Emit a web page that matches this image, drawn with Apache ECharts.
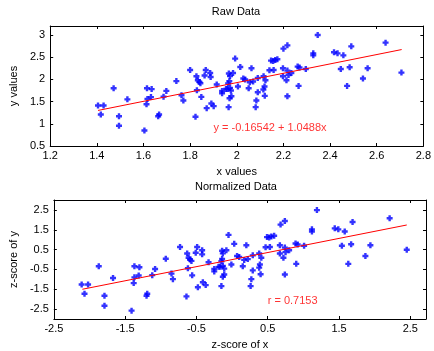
<!DOCTYPE html>
<html>
<head>
<meta charset="utf-8">
<script src="https://cdn.jsdelivr.net/npm/echarts@6/dist/echarts.min.js"></script>
<style>
html,body{margin:0;padding:0;background:#fff;}
#chart{width:434px;height:351px;}
</style>
</head>
<body>
<div id="chart"></div>
<script>
// ---- data ----
const rawX = [1.405,1.429,1.417,1.472,1.531,1.495,1.495,1.604,1.615,1.635,1.632,1.617,1.613,1.667,1.663,1.698,1.686,1.741,
  1.763,1.771,1.800,1.823,1.827,1.833,1.840,1.844,1.829,1.848,1.867,1.862,1.886,1.888,1.871,1.891,1.901,1.914,1.937,1.937,1.954,1.966,1.971,1.993,1.984,1.968,1.963,1.960,1.971,1.975,1.977,1.969,1.965,2.015,2.005,2.028,2.036,
  2.063,2.090,2.056,2.070,2.051,2.090,2.084,2.081,2.115,2.123,2.119,2.114,2.120,2.147,2.156,2.165,2.174,2.140,2.158,2.200,2.217,2.198,2.198,2.217,2.213,2.222,2.217,2.234,2.261,2.269,2.265,2.296,
  2.347,2.328,2.328,2.417,2.432,2.457,2.491,2.446,2.484,2.561,2.541,2.473,2.638,2.706];
const rawY = [1.41,1.41,1.21,1.80,1.55,1.17,0.955,0.85,1.80,1.78,1.60,1.56,1.44,1.21,1.17,1.74,1.61,1.96,
  1.643,1.525,2.211,1.157,2.070,1.980,1.942,1.913,1.756,1.605,2.211,2.085,2.143,2.054,1.352,1.457,1.397,1.883,1.740,1.688,1.785,2.130,2.076,2.466,2.143,1.957,1.906,1.785,1.807,1.749,1.621,1.576,1.374,2.278,1.839,2.018,1.996,
  2.249,2.031,1.935,1.951,1.800,1.711,1.525,1.374,2.070,1.980,1.839,1.771,1.628,2.421,2.413,2.435,2.451,2.204,2.211,2.690,2.765,2.249,2.070,2.197,1.980,2.099,1.621,2.143,2.287,2.265,1.852,2.233,
  2.996,2.585,2.540,2.608,2.585,2.540,2.742,2.233,2.271,2.249,2.018,1.852,2.825,2.152];
const zX = [-2.11,-2.02,-2.07,-1.87,-1.67,-1.79,-1.79,-1.41,-1.37,-1.30,-1.31,-1.37,-1.38,-1.19,-1.20,-1.08,-1.12,-0.93,
  -0.85,-0.83,-0.73,-0.64,-0.63,-0.61,-0.59,-0.57,-0.62,-0.56,-0.49,-0.51,-0.42,-0.42,-0.48,-0.41,-0.37,-0.33,-0.25,-0.25,-0.19,-0.14,-0.13,-0.05,-0.08,-0.14,-0.15,-0.17,-0.13,-0.11,-0.11,-0.13,-0.15,0.03,-0.01,0.07,0.10,
  0.20,0.29,0.17,0.22,0.15,0.29,0.27,0.26,0.38,0.41,0.39,0.38,0.40,0.49,0.52,0.55,0.59,0.47,0.53,0.68,0.74,0.67,0.67,0.74,0.72,0.75,0.74,0.80,0.89,0.92,0.90,1.01,
  1.19,1.12,1.12,1.44,1.49,1.58,1.69,1.54,1.67,1.94,1.87,1.63,2.21,2.45];
const zY = [-1.26,-1.26,-1.73,-0.34,-0.93,-1.83,-2.33,-2.58,-0.34,-0.39,-0.81,-0.90,-1.19,-1.73,-1.83,-0.48,-0.79,0.04,
  -0.71,-0.99,0.63,-1.86,0.30,0.09,0.00,-0.07,-0.44,-0.80,0.63,0.34,0.47,0.26,-1.40,-1.15,-1.29,-0.14,-0.48,-0.60,-0.37,0.44,0.31,1.24,0.47,0.03,-0.09,-0.37,-0.32,-0.46,-0.76,-0.87,-1.34,0.79,-0.25,0.18,0.13,
  0.72,0.21,-0.02,0.02,-0.34,-0.55,-0.99,-1.34,0.30,0.09,-0.25,-0.41,-0.74,1.13,1.11,1.16,1.20,0.62,0.63,1.76,1.94,0.72,0.30,0.60,0.09,0.37,-0.76,0.47,0.81,0.76,-0.22,0.69,
  2.49,1.52,1.41,1.57,1.52,1.41,1.89,0.69,0.77,0.72,0.18,-0.22,2.08,0.49];

const rawFitLine = [[1.405, 1.30], [2.707, 2.67]];
const zFitLine = [[-2.10, -1.50], [2.45, 1.74]];

const rawXTicks = [1.2, 1.4, 1.6, 1.8, 2, 2.2, 2.4, 2.6, 2.8];
const rawYTicks = [0.5, 1, 1.5, 2, 2.5, 3];
const zXTicks = [-2.5, -1.5, -0.5, 0.5, 1.5, 2.5];
const zYTicks = [-2.5, -1.5, -0.5, 0.5, 1.5, 2.5];

const titles = ['Raw Data', 'Normalized Data'];
const axisNames = { rawX: 'x values', rawY: 'y values', zX: 'z-score of x', zY: 'z-score of y' };
const eqText = 'y = -0.16542 + 1.0488x';
const eqPos = [1.9, 0.9];
const rText = 'r = 0.7153';
const rPos = [0.5, -2.1];

// ---- chart ----
const FONT = 'Liberation Sans';
const FS = 11;
const txt = { fontFamily: FONT, fontSize: FS, color: '#000' };
const marker = 'path://M1.8,0H4.2V1.8H6V4.2H4.2V6H1.8V4.2H0V1.8H1.8Z';

function xAx(grid, min, max, ticks, pos, name) {
  const main = pos === 'bottom' || pos === 'left';
  return {
    type: 'value', gridIndex: grid, min: min, max: max, position: pos,
    axisLine: { show: true, onZero: false, lineStyle: { color: '#000', width: 1 } },
    axisTick: { show: true, inside: true, length: 3, customValues: ticks, lineStyle: { color: '#000', width: 1 } },
    axisLabel: { show: main, customValues: ticks, margin: 4, ...txt },
    splitLine: { show: false },
    name: main ? name : '', nameLocation: 'middle', nameGap: 20,
    nameTextStyle: { ...txt }
  };
}
function yAx(grid, min, max, ticks, pos, name) {
  const main = pos === 'left';
  return {
    type: 'value', gridIndex: grid, min: min, max: max, position: pos,
    axisLine: { show: true, onZero: false, lineStyle: { color: '#000', width: 1 } },
    axisTick: { show: true, inside: true, length: 3, customValues: ticks, lineStyle: { color: '#000', width: 1 } },
    axisLabel: { show: main, customValues: ticks, margin: 5, ...txt },
    splitLine: { show: false },
    name: main ? name : '', nameLocation: 'middle', nameGap: 26,
    nameTextStyle: { ...txt }
  };
}

const rawPts = rawX.map((x, i) => [x, rawY[i]]);
const zPts = zX.map((x, i) => [x, zY[i]]);

const chart = echarts.init(document.getElementById('chart'), null, { renderer: 'canvas' });
chart.setOption({
  animation: false,
  backgroundColor: '#fff',
  title: [
    { text: titles[0], left: 236, top: 6, textAlign: 'center', padding: 0,
      textStyle: { ...txt, fontWeight: 'normal' } },
    { text: titles[1], left: 236, top: 181, textAlign: 'center', padding: 0,
      textStyle: { ...txt, fontWeight: 'normal' } }
  ],
  grid: [
    { left: 45, top: 26, width: 381, height: 120, containLabel: false },
    { left: 45, top: 200, width: 381, height: 121, containLabel: false }
  ],
  xAxis: [
    xAx(0, 1.2, 2.8, rawXTicks, 'bottom', axisNames.rawX),
    xAx(0, 1.2, 2.8, rawXTicks, 'top', ''),
    xAx(1, -2.5, 2.72, zXTicks, 'bottom', axisNames.zX),
    xAx(1, -2.5, 2.72, zXTicks, 'top', '')
  ],
  yAxis: [
    yAx(0, 0.5, 3.2, rawYTicks, 'left', axisNames.rawY),
    yAx(0, 0.5, 3.2, rawYTicks, 'right', ''),
    yAx(1, -3, 3, zYTicks, 'left', axisNames.zY),
    yAx(1, -3, 3, zYTicks, 'right', '')
  ],
  series: [
    { type: 'scatter', xAxisIndex: 0, yAxisIndex: 0, data: rawPts, symbol: marker, symbolSize: 6,
      itemStyle: { color: '#0000ff' }, silent: true },
    { type: 'line', xAxisIndex: 0, yAxisIndex: 0, data: rawFitLine, showSymbol: false, symbol: 'none',
      lineStyle: { color: '#ff0000', width: 1 }, silent: true },
    { type: 'scatter', xAxisIndex: 0, yAxisIndex: 0, data: [eqPos], symbolSize: 0,
      label: { show: true, position: 'right', distance: 0, formatter: eqText, ...txt, color: '#ff0000' }, silent: true },
    { type: 'scatter', xAxisIndex: 2, yAxisIndex: 2, data: zPts, symbol: marker, symbolSize: 6,
      itemStyle: { color: '#0000ff' }, silent: true },
    { type: 'line', xAxisIndex: 2, yAxisIndex: 2, data: zFitLine, showSymbol: false, symbol: 'none',
      lineStyle: { color: '#ff0000', width: 1 }, silent: true },
    { type: 'scatter', xAxisIndex: 2, yAxisIndex: 2, data: [rPos], symbolSize: 0,
      label: { show: true, position: 'right', distance: 0, formatter: rText, ...txt, color: '#ff0000' }, silent: true }
  ]
});
</script>
</body>
</html>
